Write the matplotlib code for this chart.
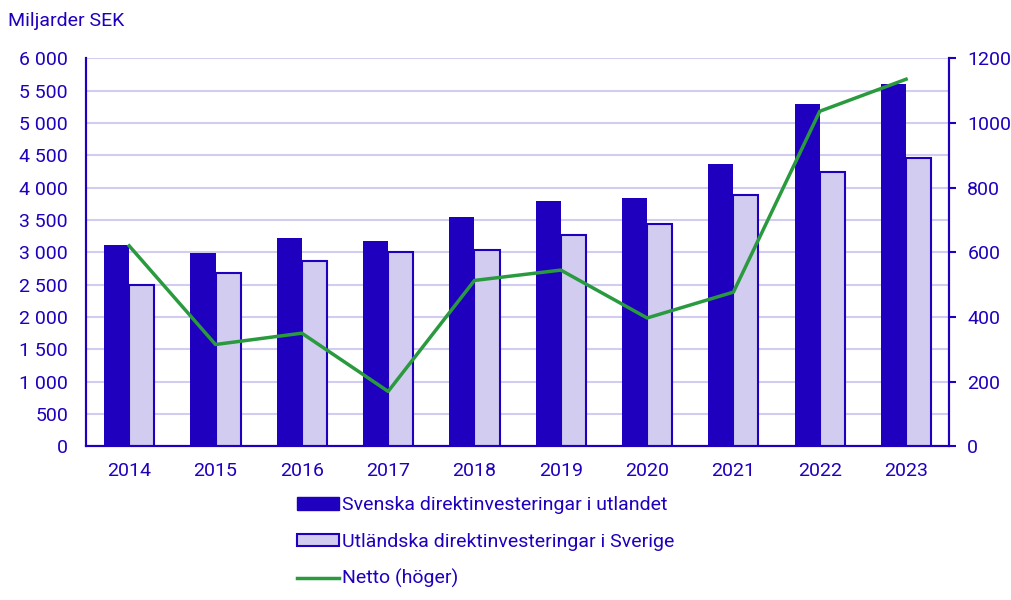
import numpy as np
import matplotlib
matplotlib.use('Agg')
from matplotlib import pyplot as plt
from matplotlib.patches import Patch
from matplotlib.lines import Line2D
from matplotlib.ticker import FuncFormatter

years = ['2014', '2015', '2016', '2017', '2018', '2019', '2020', '2021', '2022', '2023']
svenska = [3110, 2985, 3215, 3170, 3540, 3790, 3835, 4360, 5290, 5600]
utlandska = [2490, 2675, 2860, 3000, 3030, 3265, 3435, 3880, 4240, 4455]
netto = [620, 315, 350, 170, 513, 545, 397, 477, 1036, 1135]

BLUE = '#1E00BE'
LIGHT = '#D2CDF0'
GREEN = '#2A9A3F'

plt.rcParams['font.family'] = ['Roboto', 'DejaVu Sans']

fig = plt.figure(figsize=(10.12, 6.0), dpi=100)
ax = fig.add_axes([0.085, 0.256, 0.853, 0.647])
ax2 = ax.twinx()

x = np.arange(len(years))
w = 0.29
ax.bar(x - w / 2, svenska, w, color=BLUE, zorder=3)
ax.bar(x + w / 2, utlandska, w, color=LIGHT, edgecolor=BLUE, linewidth=1.5, zorder=3)
ax2.plot(x, netto, color=GREEN, linewidth=2.5, zorder=4)

ax.set_xlim(-0.5, len(years) - 0.5)
ax.set_ylim(0, 6000)
ax.set_yticks(np.arange(0, 6001, 500))
ax.yaxis.set_major_formatter(FuncFormatter(lambda v, p: f'{int(v):,}'.replace(',', '\u00a0')))
ax2.set_ylim(0, 1200)
ax2.set_yticks(np.arange(0, 1201, 200))

ax.set_xticks(x)
ax.set_xticklabels(years)
ax.grid(axis='y', color=LIGHT, linewidth=1.5, zorder=0)
ax.set_axisbelow(True)

for a in (ax, ax2):
    a.spines['top'].set_visible(False)
    for s in ('left', 'right', 'bottom'):
        a.spines[s].set_color(BLUE)
        a.spines[s].set_linewidth(1.5)
    a.tick_params(colors=BLUE, labelsize=14)
    a.tick_params(axis='x', length=0, pad=11)
ax.tick_params(axis='y', length=0, pad=13)
ax2.tick_params(axis='y', length=5, width=1.5, pad=8)

fig.text(0.008, 0.965, 'Miljarder SEK', color=BLUE, fontsize=14, va='center')

handles = [
    Patch(facecolor=BLUE, edgecolor=BLUE),
    Patch(facecolor=LIGHT, edgecolor=BLUE, linewidth=1.5),
    Line2D([0], [0], color=GREEN, linewidth=2.5),
]
labels = ['Svenska direktinvesteringar i utlandet',
          'Utländska direktinvesteringar i Sverige',
          'Netto (höger)']
fig.legend(handles, labels, loc='upper left', bbox_to_anchor=(0.293, 0.173),
           frameon=False, labelcolor=BLUE, fontsize=14, handlelength=2.2,
           handleheight=0.6, handletextpad=0.15, labelspacing=0.95,
           borderaxespad=0, borderpad=0)

fig.savefig('out.png', dpi=100)
